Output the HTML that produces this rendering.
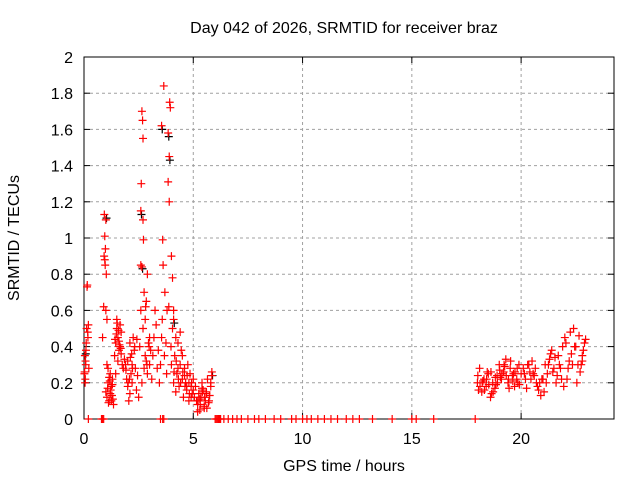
<!DOCTYPE html>
<html><head><meta charset="utf-8"><style>
body{margin:0;background:#fff;}
svg{display:block;font-family:"Liberation Sans",sans-serif;}
</style></head><body>
<svg id="chart" width="640" height="480">
<rect width="640" height="480" fill="#fff"/>
<text x="344" y="33" font-size="16" text-anchor="middle">Day 042 of 2026, SRMTID for receiver braz</text>
<text x="344" y="471" font-size="16" text-anchor="middle">GPS time / hours</text>
<text transform="translate(19,238) rotate(-90)" font-size="16" text-anchor="middle">SRMTID / TECUs</text>
<g id="grid"></g>
<g id="axes"></g>
<g id="marks"></g>
</svg>
<script>
const xTicks=[0,5,10,15,20];
const yTicks=[0,0.2,0.4,0.6,0.8,1,1.2,1.4,1.6,1.8,2];
const yTickLabels=["0","0.2","0.4","0.6","0.8","1","1.2","1.4","1.6","1.8","2"];
const blackTimes=[0.05,1.0,2.6,2.65,3.55,3.85,3.9,4.1,5.85];
const blackValues=[0.38,1.13,1.15,0.85,1.62,1.58,1.45,0.55,0.26];
const redTimes=[0.02,0.04,0.06,0.08,0.1,0.12,0.15,0.18,0.2,0.22,0.05,0.07,0.03,0.09,0.14,0.17,
0.85,0.9,0.92,0.95,0.97,1.0,1.02,1.05,0.95,0.98,0.93,1.0,
1.0,1.05,1.1,1.15,1.2,1.25,1.3,1.35,1.1,1.2,1.25,1.3,1.05,1.15,1.08,1.18,1.28,1.12,1.22,1.32,
1.4,1.45,1.5,1.55,1.6,1.65,1.7,1.75,1.5,1.6,1.45,1.55,1.65,1.7,1.8,1.85,1.48,1.52,1.58,1.62,1.42,1.68,
1.9,1.95,2.0,2.05,2.1,2.15,2.2,2.25,2.3,2.0,2.1,2.2,2.35,2.4,2.45,2.5,1.92,2.02,2.12,2.22,2.32,2.42,2.08,2.18,
2.55,2.6,2.62,2.65,2.68,2.7,2.72,2.75,2.8,2.85,2.9,2.95,3.0,2.6,2.7,2.8,2.9,3.0,3.05,2.65,2.75,2.85,2.6,2.65,2.7,2.82,2.88,2.98,
3.1,3.15,3.2,3.25,3.3,3.35,3.4,3.45,3.5,3.55,3.6,3.62,3.65,3.7,3.75,3.8,3.85,3.9,3.92,3.95,4.0,4.05,3.58,3.68,3.78,3.88,3.98,3.55,3.85,3.9,
4.0,4.05,4.1,4.15,4.2,4.25,4.3,4.35,4.4,4.45,4.5,4.55,4.6,4.65,4.7,4.75,4.8,4.85,4.9,4.95,5.0,4.2,4.3,4.5,4.7,4.9,4.1,4.4,4.6,4.8,5.0,4.12,4.22,4.32,4.42,4.52,4.62,4.72,4.82,4.92,4.1,
5.05,5.1,5.15,5.2,5.25,5.3,5.35,5.4,5.45,5.5,5.55,5.6,5.65,5.7,5.75,5.8,5.85,5.2,5.3,5.4,5.5,5.6,5.8,5.22,5.32,5.42,5.52,5.62,5.72,5.85,
0.2,0.8,0.85,0.9,3.5,3.6,3.65,6.0,6.05,6.1,6.15,6.2,6.25,6.4,6.6,6.8,7.0,7.2,7.5,7.8,8.0,8.3,8.7,9.0,9.5,9.7,10.0,10.2,10.4,10.7,11.0,11.3,11.6,12.0,12.3,12.6,13.2,14.1,15.0,15.2,16.0,17.9,
18.0,18.1,18.2,18.3,18.4,18.5,18.6,18.7,18.8,18.9,19.0,19.1,19.2,19.3,19.4,19.5,19.6,19.7,19.8,19.9,20.0,18.05,18.25,18.45,18.65,18.85,19.05,19.25,19.45,19.65,19.85,
18.02,18.12,18.22,18.32,18.42,18.52,18.62,18.72,18.82,18.92,19.02,19.12,19.22,19.32,19.42,19.52,19.62,19.72,19.82,19.92,
20.1,20.2,20.3,20.4,20.5,20.6,20.7,20.8,20.9,21.0,21.1,21.2,21.3,21.4,21.5,21.6,21.7,21.8,21.9,22.0,22.1,22.2,22.3,22.4,22.5,22.6,22.7,22.8,22.9,20.25,20.55,20.85,21.05,21.35,21.65,21.95,22.25,22.55,22.85,
20.15,20.35,20.45,20.65,20.75,20.95,21.15,21.25,21.45,21.55,21.75,21.85,22.05,22.15,22.35,22.45,22.65,22.75,22.95,22.8];
const redValues=[0.25,0.35,0.22,0.3,0.42,0.5,0.74,0.45,0.52,0.28,0.2,0.32,0.26,0.38,0.73,0.48,
0.45,0.62,0.9,1.01,0.85,1.1,0.8,0.55,0.88,0.94,1.13,0.6,
0.15,0.12,0.2,0.1,0.25,0.18,0.22,0.08,0.28,0.14,0.1,0.19,0.3,0.23,0.17,0.21,0.13,0.09,0.16,0.11,
0.35,0.42,0.5,0.45,0.38,0.52,0.48,0.3,0.55,0.43,0.25,0.32,0.4,0.36,0.28,0.33,0.47,0.53,0.49,0.41,0.44,0.39,
0.3,0.22,0.18,0.1,0.14,0.25,0.3,0.45,0.38,0.32,0.42,0.2,0.28,0.16,0.24,0.12,0.27,0.2,0.34,0.28,0.4,0.44,0.22,0.36,
0.4,0.85,1.3,1.7,1.65,1.1,0.99,0.7,0.55,0.65,0.8,0.42,0.3,0.6,0.5,0.35,0.25,0.45,0.38,0.2,0.28,0.32,1.15,0.84,1.55,0.62,0.3,0.4,
0.22,0.35,0.45,0.6,0.52,0.28,0.38,0.2,0.3,0.45,0.99,0.85,1.84,0.7,0.42,0.6,1.31,1.2,1.75,1.72,0.9,0.78,0.55,0.35,0.25,0.62,0.4,1.62,1.58,1.45,
0.3,0.5,0.2,0.35,0.15,0.25,0.42,0.18,0.3,0.38,0.22,0.12,0.28,0.2,0.16,0.3,0.1,0.25,0.18,0.14,0.22,0.45,0.28,0.35,0.18,0.12,0.6,0.48,0.24,0.2,0.16,0.26,0.32,0.22,0.2,0.26,0.18,0.24,0.14,0.2,0.55,
0.12,0.18,0.1,0.08,0.14,0.05,0.12,0.2,0.16,0.07,0.1,0.15,0.22,0.09,0.13,0.2,0.24,0.04,0.11,0.17,0.06,0.14,0.18,0.1,0.08,0.15,0.12,0.06,0.1,0.26,
0,0,0,0,0,0,0,0,0,0,0,0,0,0,0,0,0,0,0,0,0,0,0,0,0,0,0,0,0,0,0,0,0,0,0,0,0,0,0,0,0,0,
0.2,0.28,0.15,0.22,0.18,0.25,0.12,0.2,0.17,0.24,0.3,0.22,0.26,0.33,0.2,0.28,0.24,0.18,0.22,0.3,0.25,0.16,0.21,0.26,0.14,0.19,0.23,0.29,0.17,0.25,0.2,
0.24,0.18,0.2,0.16,0.22,0.19,0.26,0.15,0.23,0.2,0.27,0.25,0.3,0.24,0.22,0.32,0.21,0.26,0.28,0.19,
0.28,0.22,0.3,0.26,0.32,0.24,0.2,0.16,0.13,0.22,0.3,0.25,0.33,0.38,0.28,0.2,0.35,0.28,0.4,0.45,0.22,0.32,0.36,0.5,0.4,0.3,0.26,0.35,0.42,0.17,0.25,0.2,0.15,0.36,0.24,0.18,0.48,0.2,0.38,
0.25,0.3,0.22,0.28,0.18,0.22,0.2,0.3,0.26,0.34,0.3,0.22,0.42,0.28,0.3,0.4,0.46,0.3,0.44,0.32];
const X0=84,X1=614,Y0=419,Y1=57,TMAX=24.25,VMAX=2;
function xs(t){return X0+t/TMAX*(X1-X0);}
function ys(v){return Y0-v/VMAX*(Y0-Y1);}
const NS="http://www.w3.org/2000/svg";
function mk(tag,attrs,parent){const e=document.createElementNS(NS,tag);for(const k in attrs)e.setAttribute(k,attrs[k]);parent.appendChild(e);return e;}
const grid=document.getElementById('grid'),axes=document.getElementById('axes'),marks=document.getElementById('marks');
yTicks.forEach((v,i)=>{const y=ys(v);
if(i>0&&i<yTicks.length-1){const l=mk('line',{x1:X0,x2:X1,y1:y,y2:y,stroke:'#a0a0a0','stroke-dasharray':'3,3'},grid);}
mk('line',{x1:X0,x2:X0+6,y1:y,y2:y,stroke:'#000'},axes);
mk('line',{x1:X1,x2:X1-6,y1:y,y2:y,stroke:'#000'},axes);
const t=mk('text',{x:X0-11,y:y+6,'font-size':'16','text-anchor':'end'},axes);t.textContent=yTickLabels[i];
});
xTicks.forEach(v=>{const x=xs(v);
if(v>0){const l=mk('line',{x1:x,x2:x,y1:Y0,y2:Y1,stroke:'#a0a0a0','stroke-dasharray':'3,3'},grid);}
mk('line',{x1:x,x2:x,y1:Y0,y2:Y0-6,stroke:'#000'},axes);
mk('line',{x1:x,x2:x,y1:Y1,y2:Y1+6,stroke:'#000'},axes);
const t=mk('text',{x:x,y:Y0+25,'font-size':'16','text-anchor':'middle'},axes);t.textContent=String(v);
});
mk('rect',{x:X0,y:Y1,width:X1-X0,height:Y0-Y1,fill:'none',stroke:'#000'},axes);
function plus(t,v,col,name){const x=xs(t),y=ys(v);
const p=mk('path',{d:`M${x-4},${y}H${x+4}M${x},${y-4}V${y+4}`,stroke:col,'stroke-width':'1.2',fill:'none'},marks);

}
blackTimes.forEach((t,i)=>plus(t+0.03,blackValues[i]-0.02,'#000','black-point'));
redTimes.forEach((t,i)=>plus(t,redValues[i],'#f00','red-point'));
</script>
</body></html>
